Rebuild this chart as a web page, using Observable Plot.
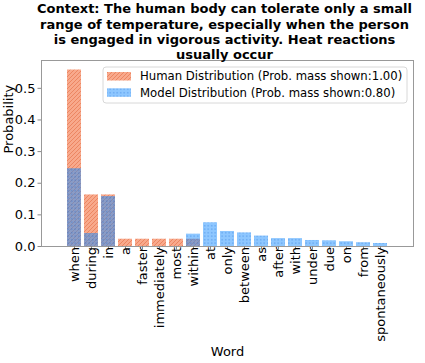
<!DOCTYPE html>
<html><head><meta charset="utf-8">
<script src="https://cdn.jsdelivr.net/npm/d3@7"></script>
<script src="https://cdn.jsdelivr.net/npm/@observablehq/plot@0.6"></script>
<style>body{margin:0;background:#fff} #chart svg{font-family:"DejaVu Sans";overflow:visible}</style>
</head><body><div id="chart"></div>
<script>
const words = ["when","during","in","a","faster","immediately","most","within","at","only","between","as","after","with","under","due","on","from","spontaneously"];
const humanProb = [0.558,0.163,0.163,0.023,0.023,0.023,0.023,0.023,0,0,0,0,0,0,0,0,0,0,0];
const modelProb = [0.246,0.041,0.158,0,0,0,0,0.039,0.075,0.0475,0.043,0.033,0.025,0.025,0.019,0.018,0.015,0.012,0.0095];
const titleLines = ["Context: The human body can tolerate only a small","range of temperature, especially when the person","is engaged in vigorous activity. Heat reactions","usually occur"];
const yTicks = [0,0.1,0.2,0.3,0.4,0.5];
const legendLabels = ["Human Distribution (Prob. mass shown:1.00)","Model Distribution (Prob. mass shown:0.80)"];
const xLabel = "Word", yLabel = "Probability";

const data = words.map((w,i)=>({word:w, human:humanProb[i], model:modelProb[i]}));

function defs(){
  const d = d3.create("svg:defs");
  const h = d.append("pattern").attr("id","hatchH").attr("patternUnits","userSpaceOnUse").attr("width",4).attr("height",4);
  h.append("rect").attr("width",4).attr("height",4).attr("fill","#f8a98c");
  h.append("path").attr("d","M-1,1 l2,-2 M0,4 l4,-4 M3,5 l2,-2").attr("stroke","#ec8662").attr("stroke-width",1);
  const m = d.append("pattern").attr("id","dotM").attr("patternUnits","userSpaceOnUse").attr("width",3.5).attr("height",3.5);
  m.append("rect").attr("width",3.5).attr("height",3.5).attr("fill","rgb(30,144,255)").attr("fill-opacity",0.5);
  m.append("rect").attr("x",1).attr("y",1).attr("width",1.4).attr("height",1.4).attr("fill","rgb(20,100,210)").attr("fill-opacity",0.35);
  return d.node();
}
function legend(){
  const g = d3.create("svg:g").attr("text-anchor","start");
  g.append("rect").attr("x",103).attr("y",67).attr("width",304).attr("height",36).attr("rx",3)
    .attr("fill","white").attr("fill-opacity",0.8).attr("stroke","#d8d8d8");
  const fills = ["url(#hatchH)","url(#dotM)"];
  legendLabels.forEach((t,i)=>{
    g.append("rect").attr("x",107).attr("y",72+i*16.3).attr("width",24).attr("height",8.5).attr("fill",fills[i]);
    g.append("text").attr("x",140).attr("y",76.3+i*16.3).attr("dominant-baseline","central")
      .attr("text-anchor","start").attr("font-size",11.7).attr("fill","black").text(t);
  });
  return g.node();
}

const chart = Plot.plot({
  width:425, height:363,
  marginLeft:41, marginRight:12, marginTop:60, marginBottom:117,
  style:{fontFamily:"DejaVu Sans", background:"white"},
  x:{domain:words, paddingInner:0.2, paddingOuter:0.94},
  y:{domain:[0,0.588]},
  marks:[
    defs,
    Plot.barY(data,{x:"word", y:"human", fill:"url(#hatchH)"}),
    Plot.barY(data,{x:"word", y:"model", fill:"url(#dotM)"}),
    Plot.frame({stroke:"#999"}),
    Plot.axisX({tickSize:3.5, tickFormat:()=>"", label:null, stroke:"#888"}),
    Plot.axisX({tickRotate:-90, fontSize:13, tickSize:0, tickPadding:0.5, label:null, fill:"black"}),
    Plot.axisY({ticks:yTicks, tickFormat:d3.format(".1f"), fontSize:13, tickSize:3.5, tickPadding:2.5, label:null, stroke:"#888", fill:"black"}),
    legend,
    Plot.text([titleLines.join("\n")],{frameAnchor:"top", lineAnchor:"top", dx:-3, dy:-58, fontSize:13, fontWeight:"bold", lineHeight:1.17, fill:"black"}),
    Plot.text([yLabel],{frameAnchor:"left", rotate:-90, dx:-33, fontSize:13, fill:"black"}),
    Plot.text([xLabel],{frameAnchor:"bottom", dy:109, fontSize:13, fill:"black"})
  ]
});
document.getElementById("chart").append(chart);
</script>
</body></html>
